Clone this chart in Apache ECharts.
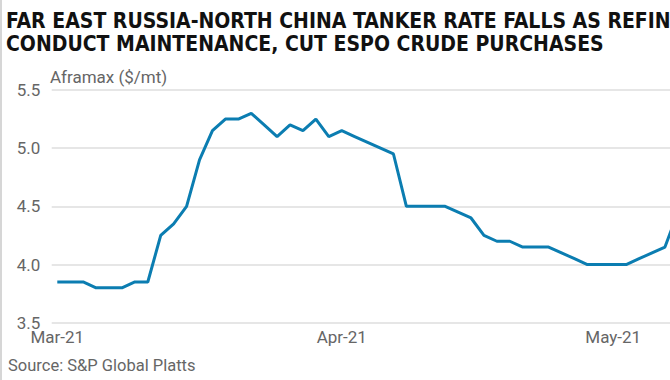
<!DOCTYPE html>
<html>
<head>
<meta charset="utf-8">
<script src="https://cdn.jsdelivr.net/npm/echarts@6/dist/echarts.min.js"></script>
<style>
html,body{margin:0;padding:0;background:#fff;}
#chart{width:670px;height:380px;}
</style>
</head>
<body>
<div id="chart"></div>
<script>
// Trading-day observations, Mar-21 .. May-21 (index = trading day)
const values = [
  3.85, 3.85, 3.85, 3.80, 3.80, 3.80, 3.85, 3.85, 4.25, 4.35,
  4.50, 4.90, 5.15, 5.25, 5.25, 5.30, 5.20, 5.10, 5.20, 5.15,
  5.25, 5.10, 5.15, 5.10, 5.05, 5.00, 4.95, 4.50, 4.50, 4.50,
  4.50, 4.45, 4.40, 4.25, 4.20, 4.20, 4.15, 4.15, 4.15, 4.10,
  4.05, 4.00, 4.00, 4.00, 4.00, 4.05, 4.10, 4.15, 4.45
];
const monthLabels = ['Mar-21', 'Apr-21', 'May-21'];
const monthIndex = [0, 22, 43];
const yTicks = [3.5, 4.0, 4.5, 5.0, 5.5];
const titleLines = [
  'FAR EAST RUSSIA-NORTH CHINA TANKER RATE FALLS AS REFINERS',
  'CONDUCT MAINTENANCE, CUT ESPO CRUDE PURCHASES'
];
const yName = 'Aframax ($/mt)';
const sourceText = 'Source: S&P Global Platts';

const titleFamily = '"Liberation Sans Narrow", "DejaVu Sans Condensed", "Roboto", sans-serif';
// fit title size so that the second line spans ~598px
const cv = document.createElement('canvas').getContext('2d');
cv.font = 'bold 100px ' + titleFamily;
const w2 = cv.measureText(titleLines[1]).width;
const titleSize = Math.min(26, 100 * 598 / w2);

const seriesData = values.map((v, i) => [i, v]);

const chart = echarts.init(document.getElementById('chart'), null, {renderer: 'svg'});
chart.setOption({
  backgroundColor: '#ffffff',
  animation: false,
  title: {
    text: titleLines.join('\n'),
    left: 1,
    top: 4,
    textStyle: {
      fontFamily: titleFamily,
      fontWeight: 'bold',
      fontSize: titleSize,
      lineHeight: 23,
      color: '#111111'
    }
  },
  grid: {left: 51.7, right: 0, top: 90, bottom: 57.3, containLabel: false},
  xAxis: {
    type: 'value',
    min: -0.433,
    max: 47.39,
    axisLine: {show: false},
    axisTick: {show: false},
    splitLine: {show: false},
    axisLabel: {
      customValues: monthIndex,
      formatter: v => monthLabels[monthIndex.indexOf(Math.round(v))] || '',
      fontFamily: 'Roboto, sans-serif',
      fontSize: 17,
      color: '#666666',
      margin: 6
    }
  },
  yAxis: {
    type: 'value',
    min: yTicks[0],
    max: yTicks[yTicks.length - 1],
    interval: 0.5,
    axisLine: {show: false},
    axisTick: {show: false},
    splitLine: {lineStyle: {color: '#dedede', width: 1.5}},
    axisLabel: {
      formatter: v => v.toFixed(1),
      fontFamily: 'Roboto, sans-serif',
      fontSize: 17,
      color: '#666666',
      align: 'left',
      margin: 35
    }
  },
  graphic: [
    {type: 'text', left: 50, top: 68, style: {text: yName, fontFamily: 'Roboto, sans-serif', fontSize: 17, fill: '#666666'}},
    {type: 'text', left: 8, top: 357, style: {text: sourceText, fontFamily: 'Roboto, sans-serif', fontSize: 16.5, fill: '#666666'}},
    {type: 'line', shape: {x1: 1, y1: 0, x2: 1, y2: 380}, style: {stroke: '#d6d6d6', lineWidth: 2}}
  ],
  series: [{
    type: 'line',
    data: seriesData,
    showSymbol: false,
    clip: true,
    lineStyle: {color: '#0b7db1', width: 3},
    itemStyle: {color: '#0b7db1'}
  }]
});
</script>
</body>
</html>
